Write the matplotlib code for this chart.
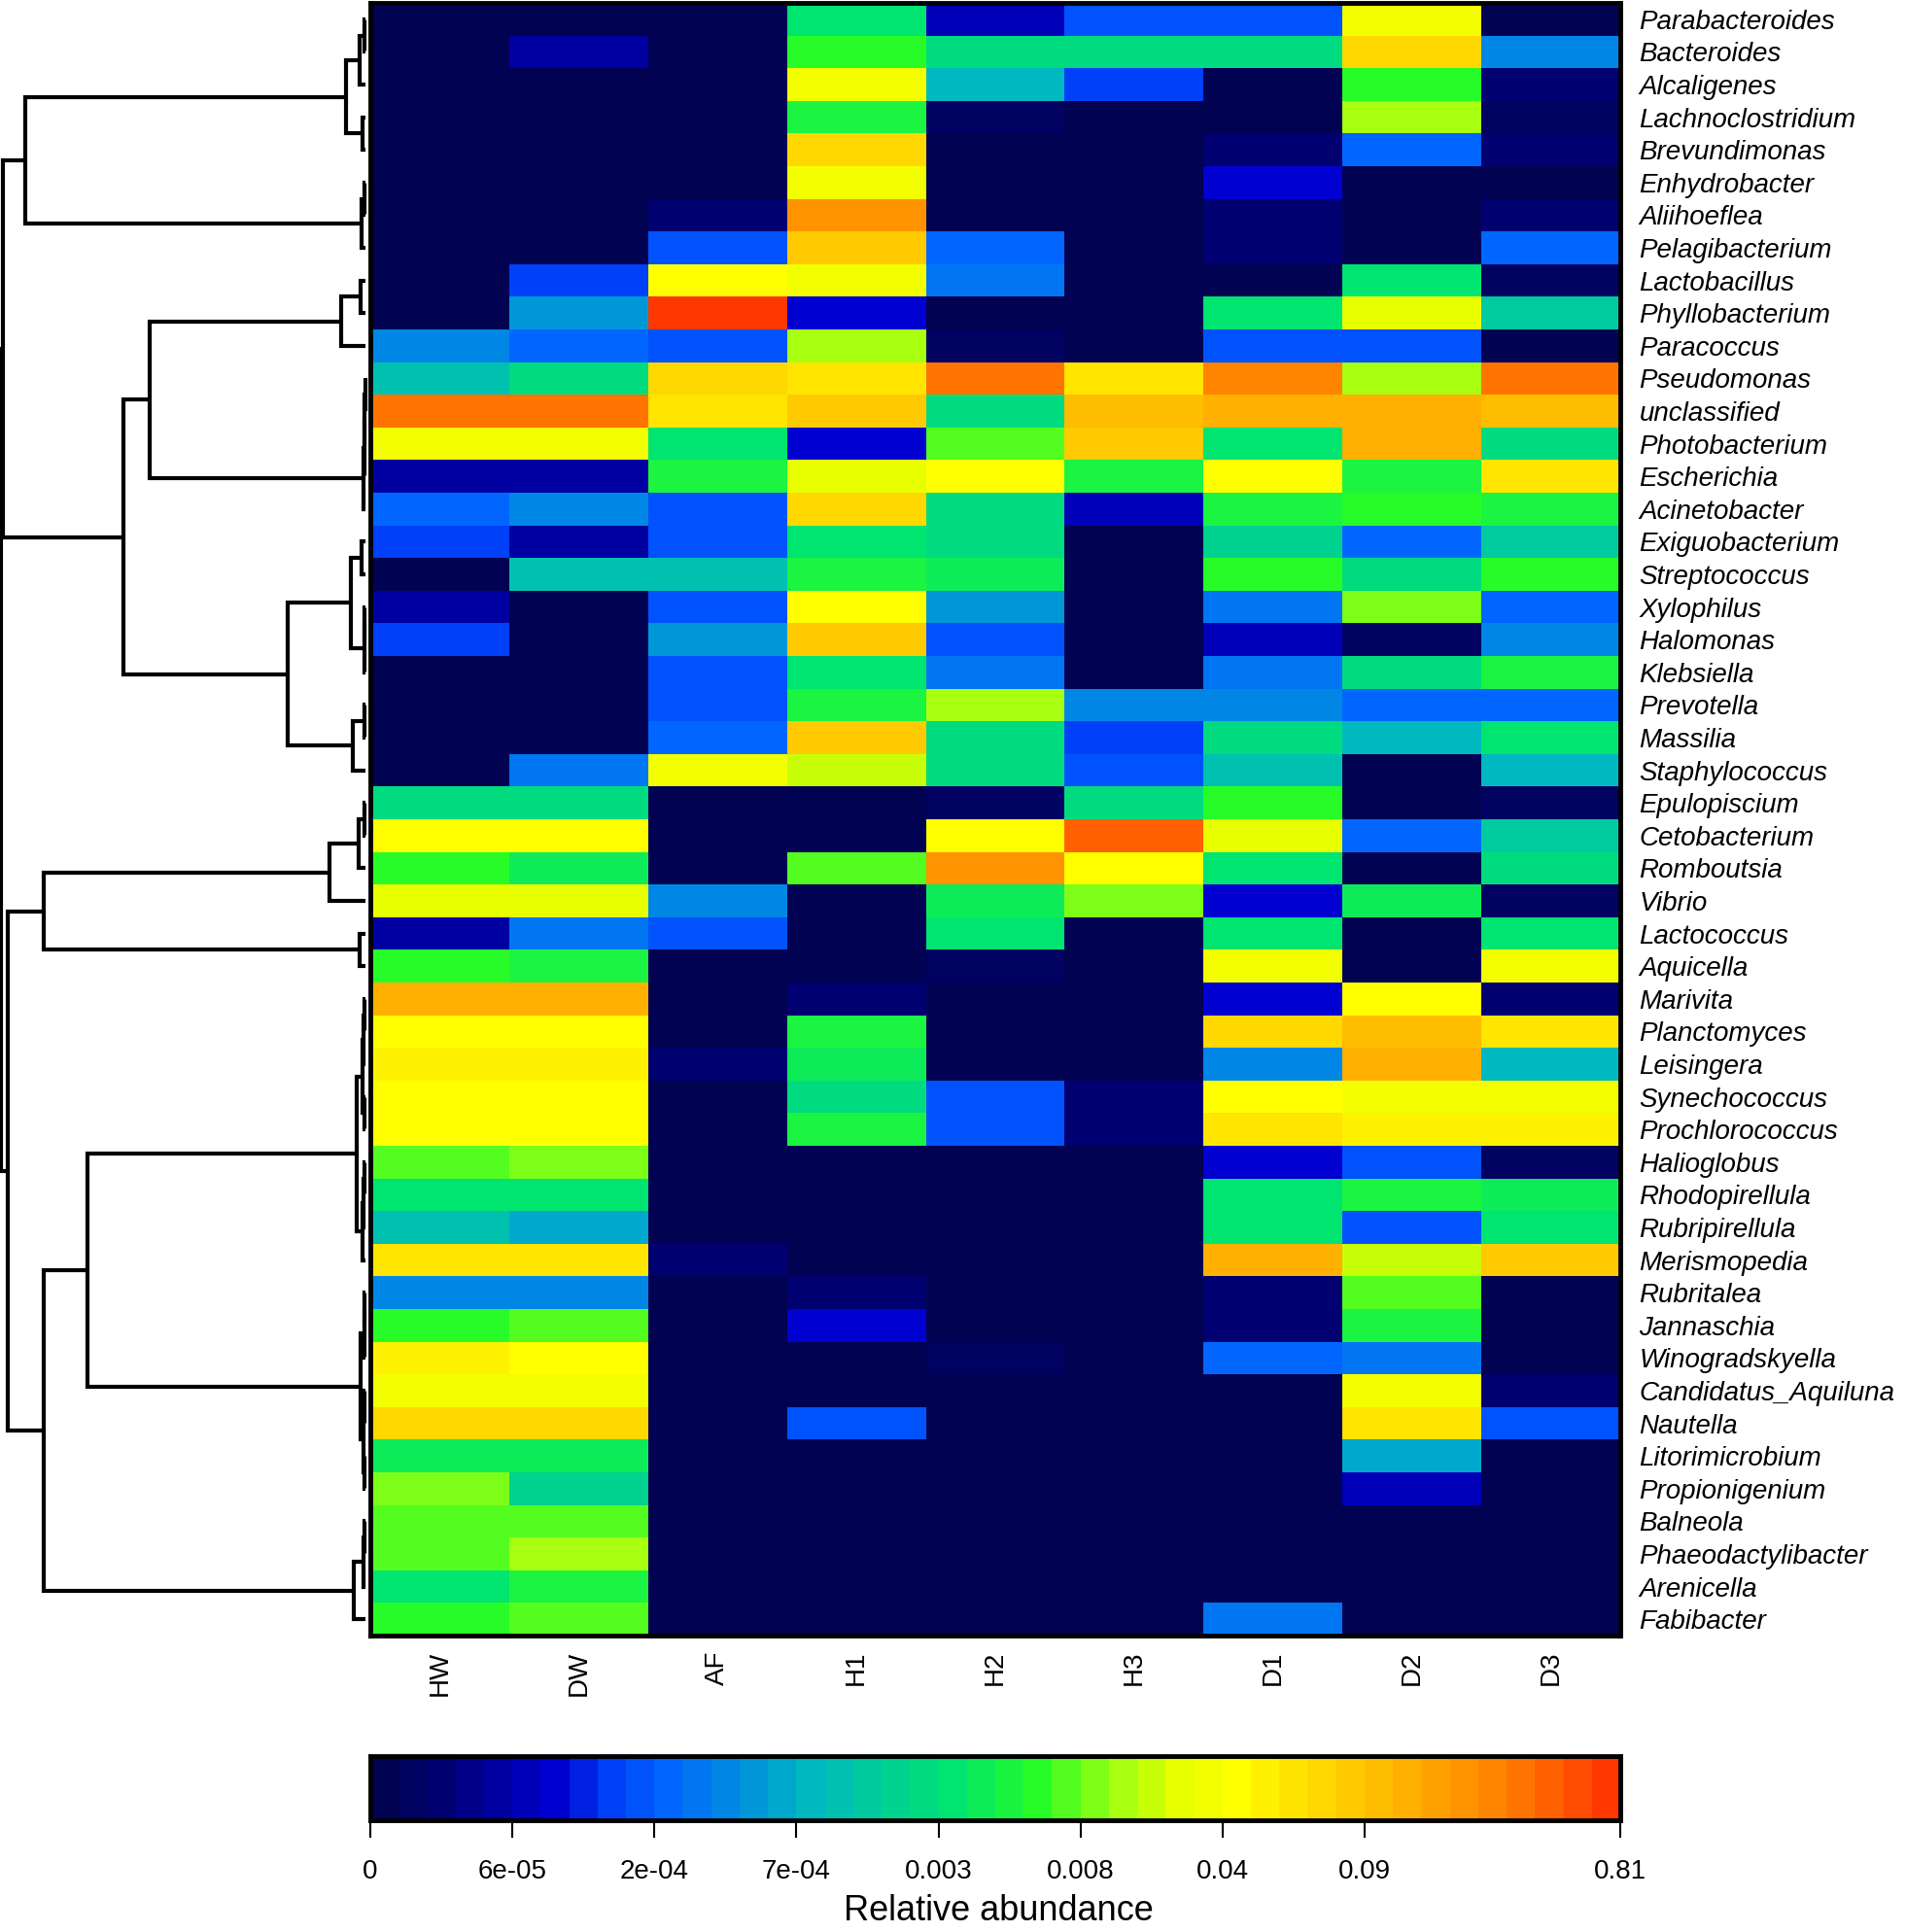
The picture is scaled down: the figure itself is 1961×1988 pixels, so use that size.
import numpy as np
import matplotlib
matplotlib.use("Agg")
import matplotlib.pyplot as plt
from matplotlib.colors import LinearSegmentedColormap, BoundaryNorm

plt.rcParams['font.family'] = ['Liberation Sans', 'DejaVu Sans']

# ---------------- data ----------------
genera = ["Parabacteroides", "Bacteroides", "Alcaligenes", "Lachnoclostridium",
          "Brevundimonas", "Enhydrobacter", "Aliihoeflea", "Pelagibacterium",
          "Lactobacillus", "Phyllobacterium", "Paracoccus", "Pseudomonas",
          "unclassified", "Photobacterium", "Escherichia", "Acinetobacter",
          "Exiguobacterium", "Streptococcus", "Xylophilus", "Halomonas",
          "Klebsiella", "Prevotella", "Massilia", "Staphylococcus",
          "Epulopiscium", "Cetobacterium", "Romboutsia", "Vibrio",
          "Lactococcus", "Aquicella", "Marivita", "Planctomyces",
          "Leisingera", "Synechococcus", "Prochlorococcus", "Halioglobus",
          "Rhodopirellula", "Rubripirellula", "Merismopedia", "Rubritalea",
          "Jannaschia", "Winogradskyella", "Candidatus_Aquiluna", "Nautella",
          "Litorimicrobium", "Propionigenium", "Balneola", "Phaeodactylibacter",
          "Arenicella", "Fabibacter"]

samples = ["HW", "DW", "AF", "H1", "H2", "H3", "D1", "D2", "D3"]

# relative-abundance colour class (0 .. 43) of each cell
abundance_class = np.array([
    [0, 0, 0, 20, 5, 9, 9, 29, 0],
    [0, 4, 0, 23, 19, 19, 19, 33, 12],
    [0, 0, 0, 29, 15, 8, 0, 23, 2],
    [0, 0, 0, 22, 1, 0, 0, 26, 1],
    [0, 0, 0, 33, 0, 0, 2, 10, 2],
    [0, 0, 0, 29, 0, 0, 6, 0, 0],
    [0, 0, 2, 38, 0, 0, 2, 0, 2],
    [0, 0, 9, 34, 10, 0, 2, 0, 10],
    [0, 8, 30, 29, 11, 0, 0, 20, 1],
    [0, 13, 43, 6, 0, 0, 20, 28, 17],
    [12, 10, 9, 26, 1, 0, 9, 9, 0],
    [16, 19, 33, 32, 40, 32, 39, 26, 40],
    [40, 40, 32, 34, 19, 35, 36, 36, 35],
    [29, 29, 20, 6, 24, 34, 20, 36, 19],
    [4, 4, 22, 28, 30, 22, 30, 22, 32],
    [10, 12, 9, 33, 19, 5, 22, 23, 22],
    [8, 4, 9, 20, 19, 0, 18, 10, 17],
    [0, 16, 16, 22, 21, 0, 23, 19, 23],
    [4, 0, 9, 30, 13, 0, 11, 25, 10],
    [8, 0, 13, 34, 9, 0, 5, 1, 12],
    [0, 0, 9, 20, 11, 0, 11, 19, 22],
    [0, 0, 9, 22, 26, 12, 12, 10, 10],
    [0, 0, 10, 34, 19, 8, 19, 15, 20],
    [0, 11, 29, 27, 19, 9, 16, 0, 15],
    [19, 19, 0, 0, 1, 19, 23, 0, 1],
    [30, 30, 0, 0, 30, 41, 28, 10, 17],
    [23, 21, 0, 24, 38, 30, 20, 0, 19],
    [28, 28, 12, 0, 21, 25, 6, 21, 1],
    [4, 11, 9, 0, 20, 0, 20, 0, 20],
    [23, 22, 0, 0, 1, 0, 29, 0, 29],
    [36, 36, 0, 2, 0, 0, 6, 30, 2],
    [30, 30, 0, 22, 0, 0, 33, 35, 32],
    [31, 31, 2, 21, 0, 0, 12, 36, 15],
    [30, 30, 0, 19, 9, 2, 30, 29, 29],
    [30, 30, 0, 22, 9, 2, 32, 31, 31],
    [24, 25, 0, 0, 0, 0, 6, 9, 1],
    [20, 20, 0, 0, 0, 0, 20, 22, 21],
    [16, 14, 0, 0, 0, 0, 20, 9, 20],
    [32, 32, 2, 0, 0, 0, 36, 27, 34],
    [12, 12, 0, 2, 0, 0, 2, 24, 0],
    [23, 24, 0, 6, 0, 0, 2, 22, 0],
    [31, 30, 0, 0, 1, 0, 10, 11, 0],
    [29, 29, 0, 0, 0, 0, 0, 29, 2],
    [33, 33, 0, 9, 0, 0, 0, 32, 9],
    [21, 21, 0, 0, 0, 0, 0, 14, 0],
    [25, 18, 0, 0, 0, 0, 0, 5, 0],
    [24, 24, 0, 0, 0, 0, 0, 0, 0],
    [24, 26, 0, 0, 0, 0, 0, 0, 0],
    [20, 22, 0, 0, 0, 0, 0, 0, 0],
    [23, 24, 0, 0, 0, 0, 11, 0, 0],
])

n_classes = 44
cbar_tick_pos = [0, 5, 10, 15, 20, 25, 30, 35, 44]
cbar_tick_labels = ["0", "6e-05", "2e-04", "7e-04", "0.003", "0.008", "0.04", "0.09", "0.81"]

# row dendrogram (linkage: node n+k merges merge_left[k] and merge_right[k])
merge_left = [0, 50, 3, 51, 5, 54, 53, 8, 57, 11, 59, 60, 61, 58, 16, 18, 65, 64, 21, 68,
              67, 63, 56, 24, 73, 74, 28, 75, 30, 78, 33, 79, 35, 82, 83, 81, 39, 86, 42, 44,
              88, 87, 85, 46, 93, 94, 92, 77, 72]
merge_right = [1, 2, 4, 52, 6, 7, 55, 9, 10, 12, 13, 14, 15, 62, 17, 19, 20, 66, 22, 23,
               69, 70, 71, 25, 26, 27, 29, 76, 31, 32, 34, 80, 36, 37, 38, 84, 40, 41, 43, 45,
               89, 90, 91, 47, 48, 49, 95, 96, 97]
merge_height = [4, 18, 8, 61, 4, 13, 1048, 16, 76, 1, 2, 3, 5, 666, 13, 2, 4, 46, 4, 38,
                241, 746, 1116, 4, 21, 111, 18, 992, 3, 5, 4, 8, 3, 5, 8, 26, 2, 4, 2, 3,
                6, 16, 856, 3, 5, 36, 990, 1101, 1122]

# ---------------- layout ----------------
W, H = 1961, 1988
fig = plt.figure(figsize=(W / 100, H / 100), dpi=100)


def frac(x0, y0, x1, y1):
    return [x0 / W, 1 - y1 / H, (x1 - x0) / W, (y1 - y0) / H]


anchors = [(0, '#020252'), (2, '#000070'), (6, '#0000d0'), (8, '#0040f8'),
           (10, '#0066ff'), (15, '#00b8c0'), (20, '#00e470'), (23, '#28fc28'),
           (26, '#a8ff10'), (28, '#e8ff00'), (30, '#ffff00'), (36, '#ffb000'),
           (38, '#ff9400'), (40, '#ff7400'), (41, '#ff6000'), (43, '#ff3800')]
cmap = LinearSegmentedColormap.from_list(
    'abund', [(p / (n_classes - 1), c) for p, c in anchors], N=n_classes)
norm = BoundaryNorm(np.arange(n_classes + 1) - 0.5, n_classes)

n_rows, n_cols = abundance_class.shape

# heatmap
ax = fig.add_axes(frac(381, 3, 1667, 1683))
ax.pcolormesh(np.arange(n_cols + 1) - 0.5, np.arange(n_rows + 1) - 0.5,
              abundance_class, cmap=cmap, norm=norm)
ax.set_xlim(-0.5, n_cols - 0.5)
ax.set_ylim(n_rows - 0.5, -0.5)
ax.yaxis.tick_right()
ax.set_yticks(range(n_rows))
ax.set_yticklabels(genera, fontstyle='italic', fontsize=20)
ax.tick_params(axis='y', length=0, pad=14)
ax.set_xticks(range(n_cols))
ax.set_xticklabels(samples, rotation=90, fontsize=20)
ax.tick_params(axis='x', length=0, pad=11)
for s in ax.spines.values():
    s.set_linewidth(3.5)

# dendrogram
axd = fig.add_axes(frac(0, 3, 376, 1683))
ypos = {i: float(i) for i in range(n_rows)}
hpos = {i: 0.0 for i in range(n_rows)}
for k, (a, b, h) in enumerate(zip(merge_left, merge_right, merge_height)):
    node = n_rows + k
    axd.plot([hpos[a], h, h, hpos[b]], [ypos[a], ypos[a], ypos[b], ypos[b]],
             color='black', lw=3, solid_joinstyle='miter', solid_capstyle='butt',
             clip_on=False)
    ypos[node] = (ypos[a] + ypos[b]) / 2
    hpos[node] = h
axd.set_xlim(1126, 0)
axd.set_ylim(n_rows - 0.5, -0.5)
axd.axis('off')

# colour key
axc = fig.add_axes(frac(381, 1807, 1667, 1873))
axc.imshow(np.arange(n_classes)[None, :], cmap=cmap, norm=norm, aspect='auto',
           extent=(0, n_classes, 0, 1), interpolation='nearest')
axc.set_yticks([])
axc.set_xticks(cbar_tick_pos)
axc.set_xticklabels(cbar_tick_labels, fontsize=20)
axc.tick_params(axis='x', length=13, width=1.5, pad=16)
for s in axc.spines.values():
    s.set_linewidth(3.5)
fig.text(1027 / W, 1 - 1984 / H, "Relative abundance", ha='center', va='bottom', fontsize=26)

fig.savefig("out.png", dpi=100)
